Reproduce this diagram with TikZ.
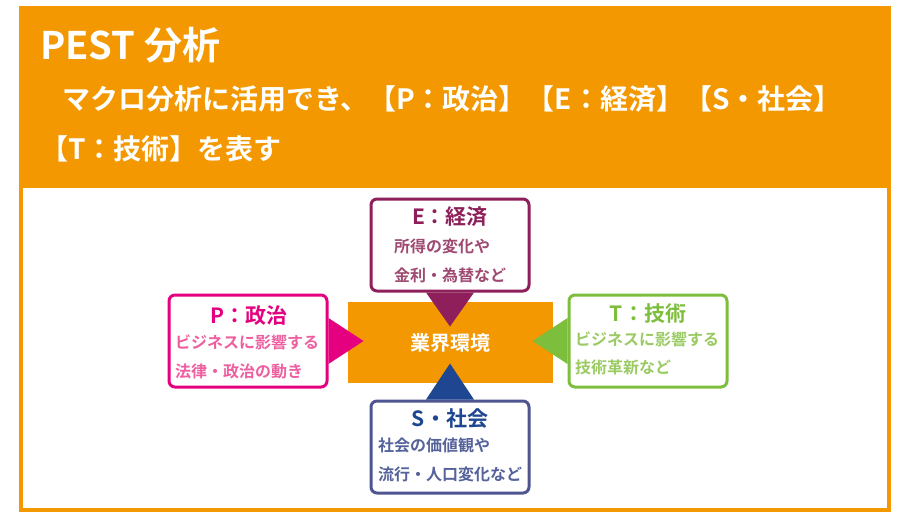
\documentclass[tikz,border=0pt]{standalone}
\usepackage{fontspec}
\setmainfont{Noto Sans CJK JP}[BoldFont={Noto Sans CJK JP Bold}]
\definecolor{org}{HTML}{F39800}
\definecolor{ecol}{HTML}{8E1F5A}\definecolor{ebody}{HTML}{9E4A72}
\definecolor{pcol}{HTML}{E4007F}\definecolor{pbody}{HTML}{EE5FA0}
\definecolor{tcol}{HTML}{7DBE3C}\definecolor{tbody}{HTML}{9ACB63}
\definecolor{scol}{HTML}{1F4690}\definecolor{sbord}{HTML}{4E5590}\definecolor{sbody}{HTML}{55639A}
\tikzset{
  box/.style={draw=#1, line width=3pt, rounded corners=6pt, fill=white},
  ttl/.style={font=\bfseries\fontsize{21}{21}\selectfont, text=#1},
  bdy/.style={font=\bfseries\fontsize{16}{16}\selectfont, text=#1, anchor=west, inner xsep=0},
}
\begin{document}
\begin{tikzpicture}[x=1pt,y=-1pt]
\useasboundingbox (0,0) rectangle (900,523);
\fill[white] (0,0) rectangle (900,523);
\fill[org] (19,6) rectangle (891,512);
\fill[white] (23,188) rectangle (887,508);
\node[anchor=west, white, inner xsep=0, font=\bfseries\fontsize{38}{38}\selectfont] (h1) at (40,45) {PEST 分析};
\node[anchor=west, white, inner xsep=0, font=\bfseries\fontsize{28}{28}\selectfont] (h2) at (62,99) {マクロ分析に活用でき、【P：政治】【E：経済】【S・社会】};
\node[anchor=west, white, inner xsep=0, font=\bfseries\fontsize{28}{28}\selectfont] (h3) at (40,149) {【T：技術】を表す};
% center
\node[fill=org, minimum width=205, minimum height=81, inner sep=0, text=white, font=\bfseries\fontsize{20}{20}\selectfont] (c) at (450.5,342.5) {業界環境};
% boxes
\node[box=ecol, minimum width=158, minimum height=92] (E) at (450,245) {};
\node[box=pcol, minimum width=158, minimum height=92] (P) at (248,341) {};
\node[box=tcol, minimum width=158, minimum height=92] (T) at (648,341) {};
\node[box=sbord, minimum width=158, minimum height=92] (S) at (450,447) {};
% triangles
\fill[ecol] ([xshift=-24]E.south) -- ([xshift=24]E.south) -- ([yshift=-34]E.south) -- cycle;
\fill[scol] ([xshift=-24]S.north) -- ([xshift=24]S.north) -- ([yshift=36]S.north) -- cycle;
\fill[pcol] ([yshift=-23]P.east) -- ([yshift=23]P.east) -- ([xshift=35]P.east) -- cycle;
\fill[tcol] ([yshift=-23]T.west) -- ([yshift=23]T.west) -- ([xshift=-35]T.west) -- cycle;
% texts
\node[ttl=ecol] (et) at (450,217) {E：経済};
\node[bdy=ebody] (e1) at (394,246) {所得の変化や};
\node[bdy=ebody] (e2) at (394,275) {金利・為替など};
\node[ttl=pcol] (pt) at (249,316) {P：政治};
\node[bdy=pbody] (p1) at (175,342) {ビジネスに影響する};
\node[bdy=pbody] (p2) at (175,371) {法律・政治の動き};
\node[ttl=tcol] (tt) at (648,314) {T：技術};
\node[bdy=tbody] (t1) at (575,339) {ビジネスに影響する};
\node[bdy=tbody] (t2) at (575,367) {技術革新など};
\node[ttl=scol] (st) at (450,419) {S・社会};
\node[bdy=sbody] (s1) at (378,445) {社会の価値観や};
\node[bdy=sbody] (s2) at (378,474) {流行・人口変化など};
\end{tikzpicture}
\end{document}
